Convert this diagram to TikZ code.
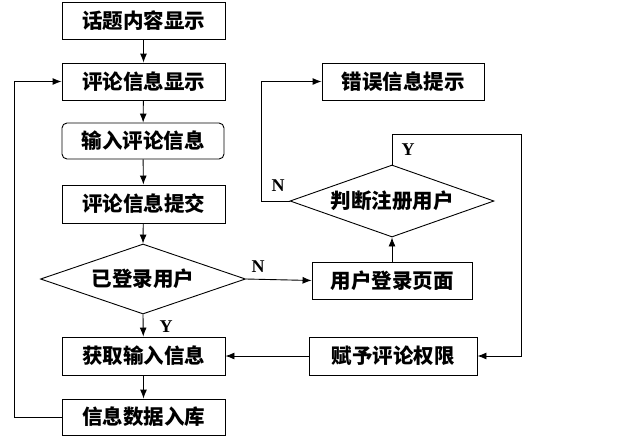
\documentclass[tikz,border=0pt]{standalone}
\usepackage{fontspec}
\newfontfamily\cjk{Noto Sans CJK SC}
\newfontfamily\lab{Liberation Serif}
\usetikzlibrary{shapes.geometric,arrows.meta}
\begin{document}
\begin{tikzpicture}[x=1pt,y=-1pt,
  box/.style={draw,line width=0.9pt,inner sep=0pt,font=\cjk\bfseries\fontsize{20.5}{20.5}\selectfont},
  dia/.style={draw,diamond,shape aspect=2.9,line width=0.9pt,inner sep=0pt,font=\cjk\bfseries\fontsize{20.5}{20.5}\selectfont},
  arr/.style={line width=0.9pt,-{Latex[length=9pt,width=7pt]}},
  yn/.style={font=\lab\bfseries\fontsize{18}{18}\selectfont,inner sep=0pt}]
\useasboundingbox (0,0) rectangle (617,444);
\node[box,minimum width=163pt,minimum height=37pt] (b1) at (143.5,20.5) {话题内容显示};
\node[box,minimum width=163pt,minimum height=37pt] (b2) at (143.5,81.5) {评论信息显示};
\node[box,rounded corners=5pt,minimum width=162pt,minimum height=36pt] (b3) at (143,141) {输入评论信息};
\node[box,minimum width=163pt,minimum height=38pt] (b4) at (143.5,204) {评论信息提交};
\node[dia,minimum width=205pt,minimum height=70pt] (d1) at (143,279) {已登录用户};
\node[box,minimum width=163pt,minimum height=38pt] (b5) at (143.5,356) {获取输入信息};
\node[box,minimum width=163pt,minimum height=36pt] (b6) at (143.5,417) {信息数据入库};
\node[box,minimum width=162pt,minimum height=37pt] (err) at (403,81.5) {错误信息提示};
\node[dia,minimum width=204pt,minimum height=72pt] (d2) at (392,201) {判断注册用户};
\node[box,minimum width=160pt,minimum height=37pt] (login) at (392,280.5) {用户登录页面};
\node[box,minimum width=168pt,minimum height=38pt] (grant) at (393,356) {赋予评论权限};
\coordinate (lx) at (14,417);
\coordinate (nx) at (261,201);
\coordinate (yc) at (521,134);
\draw[arr] (b1) -- (b2);
\draw[arr] (b2) -- (b3);
\draw[arr] (b3) -- (b4);
\draw[arr] (b4) -- (d1.north);
\draw[arr] (d1.south) -- (b5);
\draw[arr] (b5) -- (b6);
\draw[arr] (b6.west) -- (lx) |- (b2.west);
\draw[arr] (d1.east) -- (login.west);
\draw[arr] (login.north) -- (d2.south);
\draw[arr] (d2.west) -- (nx) |- (err.west);
\draw[arr] (d2.north) |- (yc) |- (grant.east);
\draw[arr] (grant.west) -- (b5.east);
\node[yn] (y1) at (166,327) {Y};
\node[yn] (n1) at (258,267) {N};
\node[yn] (n2) at (278,186) {N};
\node[yn] (y2) at (408,150) {Y};
\end{tikzpicture}
\end{document}
